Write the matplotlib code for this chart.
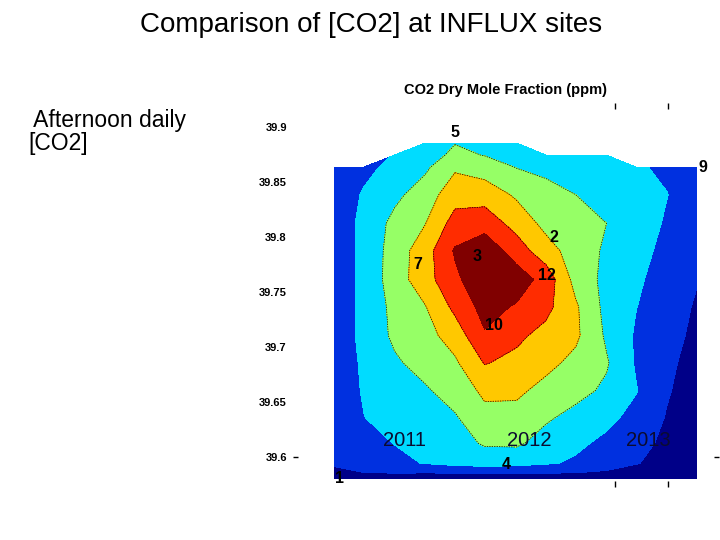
import numpy as np
import matplotlib
matplotlib.use("Agg")
import matplotlib.pyplot as plt
from matplotlib.colors import ListedColormap, BoundaryNorm

plt.rcParams['font.family'] = ['Liberation Sans', 'DejaVu Sans']

nan = np.nan

# grid of afternoon CO2 (ppm), rows north -> south
lons = [-86.315, -86.287, -86.258, -86.229, -86.201, -86.173, -86.143,
        -86.115, -86.087, -86.058, -86.030, -86.001, -85.973]
lats = [39.885, 39.874, 39.863, 39.838, 39.812, 39.787, 39.761, 39.736,
        39.710, 39.685, 39.660, 39.635, 39.612, 39.594, 39.580]
co2_ppm = [
    [nan, nan, nan, 402.55, 402.97, 402.85, 402.70, nan, nan, nan, nan, nan, nan],
    [nan, nan, 402.05, 402.60, 403.20, 402.97, 402.80, 402.65, 402.48, 402.32, nan, nan, nan],
    [401.40, 401.77, 402.24, 402.82, 403.85, 403.50, 402.97, 402.74, 402.52, 402.31, 402.10, 401.85, 401.60],
    [401.40, 402.09, 402.76, 403.50, 404.60, 404.60, 403.85, 403.37, 403.00, 402.67, 402.35, 402.02, 401.50],
    [401.40, 402.24, 403.28, 403.97, 405.40, 405.55, 404.65, 403.70, 403.40, 403.00, 402.45, 401.90, 401.40],
    [401.40, 402.24, 403.44, 404.58, 406.10, 406.75, 405.50, 404.42, 403.53, 402.85, 402.31, 401.75, 401.20],
    [401.40, 402.24, 403.49, 404.60, 405.80, 406.70, 406.55, 405.60, 403.64, 402.72, 402.16, 401.57, 401.05],
    [401.40, 402.24, 403.27, 403.95, 405.24, 406.35, 405.90, 405.27, 404.14, 402.70, 402.02, 401.45, 400.90],
    [401.40, 402.24, 403.19, 403.65, 404.45, 405.90, 405.20, 404.70, 404.19, 402.85, 401.88, 401.32, 400.80],
    [401.40, 402.14, 402.85, 403.37, 403.84, 405.05, 404.75, 404.27, 403.73, 403.10, 401.89, 401.22, 400.60],
    [401.40, 402.08, 402.49, 402.88, 403.43, 404.20, 404.20, 403.69, 403.30, 402.83, 402.05, 401.09, 400.50],
    [401.40, 401.98, 402.29, 402.59, 402.89, 403.70, 403.65, 403.12, 402.70, 402.25, 401.68, 400.93, 400.40],
    [401.40, 401.70, 402.02, 402.32, 402.62, 403.10, 403.15, 402.62, 402.20, 401.77, 401.30, 400.80, 400.35],
    [401.20, 401.45, 401.75, 402.05, 402.30, 402.45, 402.35, 402.12, 401.85, 401.45, 401.05, 400.65, 400.30],
    [400.30, 400.70, 400.60, 400.40, 400.30, 400.30, 400.30, 400.40, 400.50, 400.50, 400.40, 400.30, 400.20],
]
levels = [399, 401, 402, 403, 404, 405, 406, 408]
line_levels = [403, 404, 405]

# site labels
site_ids = ['5', '9', '2', '3', '7', '12', '10', '4', '1']
site_lon = [-86.201, -85.967, -86.108, -86.180, -86.236, -86.114, -86.164, -86.153, -86.310]
site_lat = [39.895, 39.863, 39.799, 39.782, 39.775, 39.765, 39.719, 39.593, 39.580]

years = ['2011', '2012', '2013']
year_x = [0.257, 0.555, 0.841]

colors = ['#000088', '#0030e0', '#00dcff', '#96ff66', '#ffc800', '#ff2c00', '#800000']
cmap = ListedColormap(colors)
norm = BoundaryNorm(levels, cmap.N)

fig = plt.figure(figsize=(7.2, 5.4), dpi=100)
ax = fig.add_axes([298 / 720, 1 - 487 / 540, 416 / 720, 384 / 540])

X, Y = np.meshgrid(lons, lats)
Z = np.ma.masked_invalid(np.array(co2_ppm))
ax.contourf(X, Y, Z, levels=levels, cmap=cmap, norm=norm)
ax.contour(X, Y, Z, levels=line_levels, colors='k', linewidths=0.5,
           linestyles=[(0, (2, 1.5))])

for sid, lo, la in zip(site_ids, site_lon, site_lat):
    ax.text(lo, la, sid, ha='center', va='center', fontsize=11.5,
            fontweight='bold', color='black', clip_on=False, zorder=5)

for yr, xf in zip(years, year_x):
    ax.text(xf, 0.12, yr, transform=ax.transAxes, ha='center', va='center',
            fontsize=14.5, color='#0c0c30', zorder=5)

ax.set_xlim(-86.349, -85.9566)
ax.set_ylim(39.5723, 39.9214)
for s in ax.spines.values():
    s.set_visible(False)

ax.set_xticks([-86.05, -86.0])
ax.set_xticklabels([])
ax.tick_params(axis='x', which='major', direction='in', top=True, bottom=True,
               length=4, width=1)
ax.set_yticks([39.6, 39.65, 39.7, 39.75, 39.8, 39.85, 39.9])
ax.set_yticklabels(['39.6', '39.65', '39.7', '39.75', '39.8', '39.85', '39.9'],
                   fontsize=8, fontweight='bold')
ax.tick_params(axis='y', which='major', length=0, pad=8)
ax.yaxis.remove_overlapping_locs = False
ax.set_yticks([39.6], minor=True)
ax.tick_params(axis='y', which='minor', direction='out', left=True, right=True,
               length=3.5, width=1)

ax.set_title('CO2 Dry Mole Fraction (ppm)', fontsize=10.5, fontweight='bold', pad=6.5)

fig.text(0.516, 1 - 32 / 540, 'Comparison of [CO2] at INFLUX sites',
         ha='center', va='baseline', fontsize=20)
fig.text(28 / 720, 1 - 127 / 540, ' Afternoon daily', ha='left', va='baseline', fontsize=16.5)
fig.text(28 / 720, 1 - 150 / 540, '[CO2]', ha='left', va='baseline', fontsize=16.5)

fig.savefig('out.png', dpi=100)
